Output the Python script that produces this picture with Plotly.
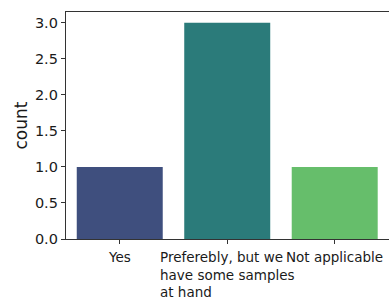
import plotly.graph_objects as go

categories = ["Yes", "Preferebly, but we<br>have some samples<br>at hand", "Not applicable"]
counts = [1, 3, 1]
colors = ["#3f4f7e", "#2b7b7a", "#66be6b"]
y_ticks = [0.0, 0.5, 1.0, 1.5, 2.0, 2.5, 3.0]

FONT = "DejaVu Sans"

fig = go.Figure()
fig.add_trace(go.Bar(
    x=list(range(len(categories))), y=counts,
    marker=dict(color=colors, line=dict(width=0)),
    width=0.8, hoverinfo="skip",
))

for i, lab in enumerate(categories):
    fig.add_annotation(x=i, y=0, xref="x", yref="y", text=lab, showarrow=False,
                       xanchor="center", yanchor="top", align="left", yshift=-8,
                       font=dict(family=FONT, size=13.5, color="#1a1a1a"))

fig.add_annotation(x=0, y=0.5, xref="paper", yref="paper", text="count",
                   showarrow=False, textangle=-90, xanchor="center", yanchor="middle",
                   xshift=-46, font=dict(family=FONT, size=17, color="#1a1a1a"))

fig.update_layout(
    width=389, height=302,
    margin=dict(l=66, r=0, t=12, b=63),
    plot_bgcolor="white", paper_bgcolor="white",
    showlegend=False,
    font=dict(family=FONT, size=14, color="#1a1a1a"),
    xaxis=dict(range=[-0.5, 2.505], tickmode="array", tickvals=[0, 1, 2],
               ticktext=["", "", ""], ticks="outside", ticklen=4, tickcolor="#333",
               showline=True, linecolor="#333", linewidth=1.3, mirror=True,
               showgrid=False, zeroline=False, automargin=False),
    yaxis=dict(range=[0, 3.15], tickmode="array", tickvals=y_ticks,
               ticktext=[f"{v:.1f}" for v in y_ticks], ticks="outside", ticklen=4,
               tickcolor="#333", showline=True, linecolor="#333", linewidth=1.3,
               mirror=False, showgrid=False, zeroline=False, automargin=False,
               tickfont=dict(size=14.5)),
)

fig.write_html("out.html", config={"displayModeBar": False},
               post_script="document.body.style.margin='0';document.body.style.overflow='hidden';")
